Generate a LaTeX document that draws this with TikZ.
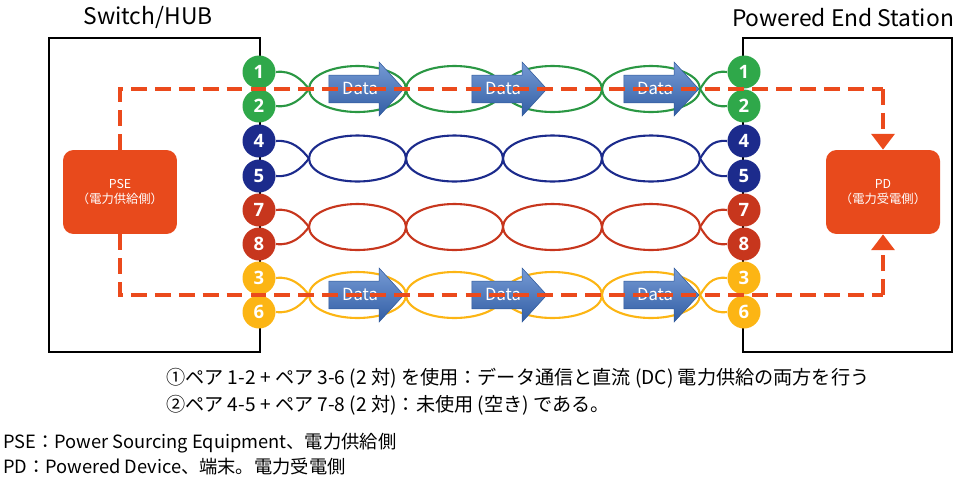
\documentclass[tikz,border=0pt]{standalone}
\usepackage{fontspec}
\setmainfont{Noto Sans CJK JP}
\newfontfamily\numfont{Open Sans}
\usetikzlibrary{shapes.arrows,arrows.meta}

\definecolor{pgreen}{HTML}{2FA84A}
\definecolor{pnavy}{HTML}{1C2B8C}
\definecolor{pred}{HTML}{C7361D}
\definecolor{pyellow}{HTML}{FCB514}
\definecolor{dcred}{HTML}{EB4A1C}
\definecolor{boxred}{HTML}{E84A1C}
\definecolor{datablue}{HTML}{3B6FC2}

\tikzset{
  pin/.style={circle, fill=#1, minimum size=0.66cm, inner sep=0pt, text=white,
    font=\numfont\bfseries\fontsize{10.5}{12}\selectfont},
  devbox/.style={rounded corners=6pt, fill=boxred, minimum width=2.28cm, minimum height=1.68cm,
    text=white, align=center, font=\fontsize{7}{9}\selectfont},
  datarrow/.style={single arrow, shading=axis, top color=datablue!70!white, bottom color=datablue!85!black,
    draw=datablue!80!black, line width=0.3pt, minimum height=1.5cm, minimum width=1.04cm,
    inner xsep=2pt, inner ysep=4.5pt, text height=6.5pt, text depth=0pt,
    single arrow head extend=7.4pt, single arrow tip angle=95, text=white,
    font=\fontsize{9.5}{10}\selectfont},
  dc/.style={dcred, line width=2.3pt, dash pattern=on 9pt off 4.6pt},
  title/.style={font=\fontsize{13}{15}\selectfont},
  note/.style={anchor=west, font=\fontsize{10.9}{12}\selectfont},
  legend/.style={anchor=west, font=\fontsize{10.4}{12}\selectfont}
}

\begin{document}
\begin{tikzpicture}[x=0.02cm, y=-0.02cm]
\useasboundingbox (0,0) rectangle (960,481);

% boxes
\draw [line width=1.1pt] (49,38) rectangle (260,352);
\draw [line width=1.1pt] (743,38) rectangle (952,352);
\node [title] (sw) at (148,17) {Switch/HUB};
\node [title] (pes) at (843,18) {Powered End Station};

% pins
\foreach \n/\y/\col in {1/72/pgreen, 2/106/pgreen, 4/141/pnavy, 5/176/pnavy,
                        7/210/pred, 8/244/pred, 3/278/pyellow, 6/312/pyellow}{
	\node [pin=\col] (l\n) at (259,\y) {\n};
	\node [pin=\col] (r\n) at (744,\y) {\n};
	}

% twisted pairs
\foreach \a/\b/\c/\col in {1/2/89/pgreen!90!black, 4/5/158.5/pnavy, 7/8/227/pred, 3/6/295/pyellow}{
	\draw [\col, line width=1.2pt] (l\a.east) .. controls (292,\c-19) and (302,\c-9) .. (309,\c)
		.. controls (302,\c+9) and (292,\c+19) .. (l\b.east);
	\draw [\col, line width=1.2pt] (r\a.west) .. controls (711,\c-19) and (706,\c-9) .. (700,\c)
		.. controls (706,\c+9) and (711,\c+19) .. (r\b.west);
	\draw [\col, line width=1.2pt] (357.5,\c) ellipse (48.5 and 23);
	\draw [\col, line width=1.2pt] (454.5,\c) ellipse (48.5 and 23);
	\draw [\col, line width=1.2pt] (552.5,\c) ellipse (49.5 and 23);
	\draw [\col, line width=1.2pt] (651,\c) ellipse (49 and 23);
	}

% data arrows
\foreach \x/\i in {360/1, 503/2, 655/3}{
	\node [datarrow] (dt\i) at (\x,89) {Data};
	\node [datarrow] (db\i) at (\x,295) {Data};
	}

% PSE / PD
\node [devbox] (pse) at (120,192) {PSE\\（電力供給側）};
\node [devbox] (pd) at (883,192) {PD\\（電力受電側）};

% DC supply path
\coordinate (tr) at (883,89);
\coordinate (brc) at (883,295);
\draw [dc] (pse.north) |- (tr);
\draw [dc, -{Triangle[length=9pt,width=13pt]}] (tr) -- (pd.north);
\draw [dc] (pse.south) |- (brc);
\draw [dc, -{Triangle[length=9pt,width=13pt]}] (brc) -- (pd.south);

% notes
\node [note] (n1) at (160,378) {①ペア 1-2 + ペア 3-6 (2 対) を使用：データ通信と直流 (DC) 電力供給の両方を行う};
\node [note] (n2) at (160,405) {②ペア 4-5 + ペア 7-8 (2 対)：未使用 (空き) である。};
\node [legend] (n3) at (-3,443) {PSE：Power Sourcing Equipment、電力供給側};
\node [legend] (n4) at (-3,467) {PD：Powered Device、端末。電力受電側};

\end{tikzpicture}
\end{document}
